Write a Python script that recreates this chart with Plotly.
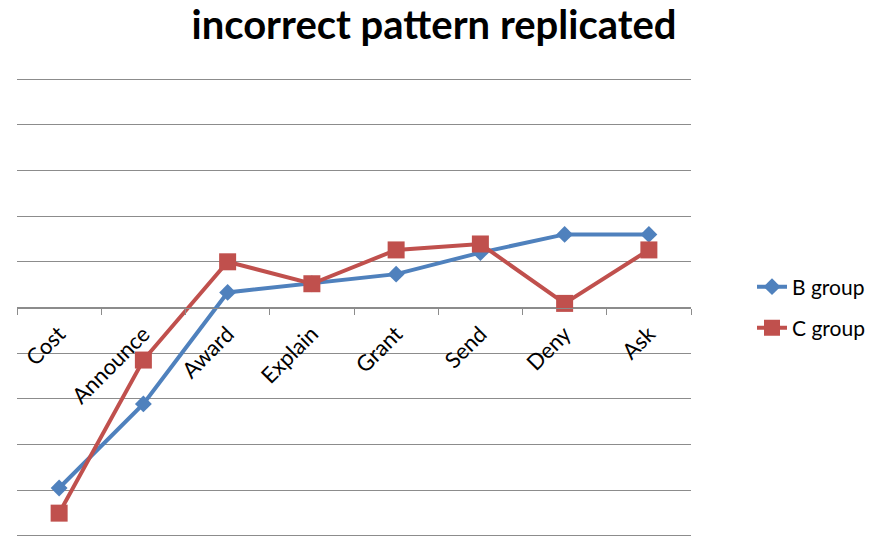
import plotly.graph_objects as go

categories = ["Cost", "Announce", "Award", "Explain", "Grant", "Send", "Deny", "Ask"]
b_group = [-3.95, -2.11, 0.33, 0.52, 0.73, 1.2, 1.6, 1.6]
c_group = [-4.5, -1.15, 1.0, 0.52, 1.26, 1.39, 0.09, 1.26]

BLUE = "#4F81BD"
RED = "#C0504D"
GRID = "#8C8C8C"
FONT = "Lato"

W, H = 880, 539
# plot area: x 17..691, y 77..538 (gridlines at +/-5 land on 79 / 536)
L, R, T, B = 17, 189, 77, 1
YPAD = 5.044

fig = go.Figure()
fig.add_trace(go.Scatter(
    x=categories, y=b_group, name="B group", mode="lines+markers",
    line=dict(color=BLUE, width=4),
    marker=dict(symbol="diamond", size=13, color=BLUE),
    legend="legend",
))
fig.add_trace(go.Scatter(
    x=categories, y=c_group, name="C group", mode="lines+markers",
    line=dict(color=RED, width=4),
    marker=dict(symbol="square", size=17, color=RED),
    legend="legend2",
))

plot_w = W - L - R
plot_h = H - T - B
legend_common = dict(
    font=dict(family=FONT, size=21, color="#000000"),
    bgcolor="rgba(0,0,0,0)", borderwidth=0,
    xanchor="left", yanchor="middle", x=(752 - L) / plot_w,
    xref="paper", yref="paper", itemwidth=30,
)

fig.update_layout(
    width=W, height=H,
    margin=dict(l=L, r=R, t=T, b=B, pad=0),
    paper_bgcolor="white", plot_bgcolor="white",
    template="none",
    title=dict(
        text="<b>incorrect pattern replicated</b>",
        font=dict(family=FONT, size=40, color="#000000"),
        x=434 / W, xanchor="center", xref="container",
        y=1 - 25 / H, yanchor="middle", yref="container",
    ),
    showlegend=True,
    legend=dict(**legend_common, y=1 - (287 - T) / plot_h),
    legend2=dict(**legend_common, y=1 - (328 - T) / plot_h),
    xaxis=dict(
        type="category", range=[-0.5, 7.5],
        anchor="free", position=0.5,
        showline=True, linecolor=GRID, linewidth=1,
        ticks="outside", tickson="boundaries", ticklen=6,
        tickcolor=GRID, tickwidth=1,
        tickangle=-45, ticklabelstandoff=4,
        tickfont=dict(family=FONT, size=22, color="#000000"),
        showgrid=False, zeroline=False, automargin=False,
    ),
    yaxis=dict(
        range=[-YPAD, YPAD], dtick=1, tick0=0,
        showgrid=True, gridcolor=GRID, gridwidth=1,
        zeroline=True, zerolinecolor=GRID, zerolinewidth=1,
        showticklabels=False, ticks="", showline=False,
        automargin=False,
    ),
)

fig.write_html("out.html")
